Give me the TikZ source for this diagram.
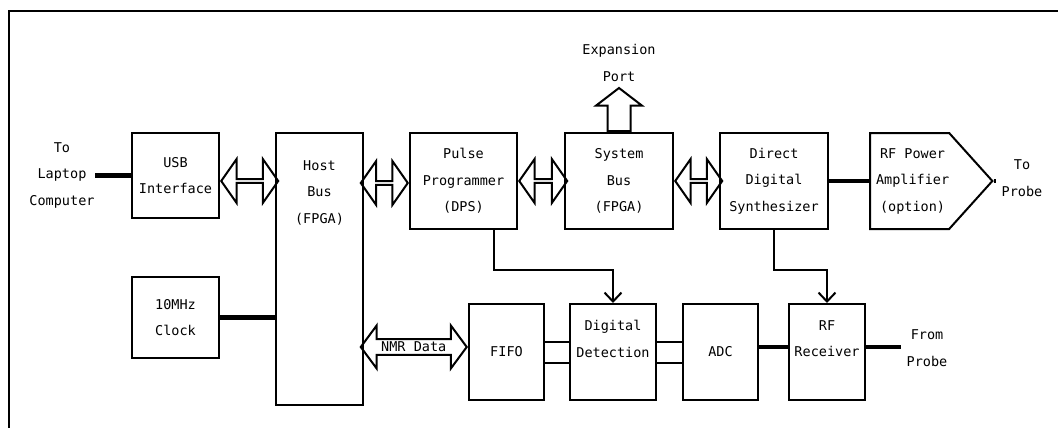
\documentclass[tikz,border=0pt]{standalone}
\usepackage{fontspec}
\setmainfont{DejaVu Sans Mono}
\usetikzlibrary{shapes.arrows,shapes.symbols,arrows.meta}

\tikzset{
  blk/.style={draw, line width=2pt, inner sep=0pt, align=center, anchor=north west},
  txt/.style={inner sep=0pt, align=center},
  bus/.style={line width=4.8pt},
  thin/.style={line width=2pt},
  sig/.style={line width=2pt, -{Straight Barb[length=9pt,width=17pt,line width=2pt]}},
  dbl/.style={draw, line width=2pt, double arrow, double arrow tip angle=110,
    double arrow head extend=11pt, inner sep=0pt, minimum width=44pt},
}

\begin{document}
\begin{tikzpicture}[x=1pt, y=-1pt,
    every node/.style={font=\fontsize{13.5}{26.5}\selectfont}]
    \useasboundingbox (0,0) rectangle (1058,428);

    % Frame
    \draw[thin] (9,428) -- (9,11) -- (1058,11);

    % Blocks
    \node[blk, minimum width=87pt, minimum height=85pt] (usb) at (131,132) {USB\\Interface};
    \node[blk, minimum width=87pt, minimum height=272pt,
      label={[txt, anchor=north, yshift=-28pt]north:{Host\\Bus\\(FPGA)}}] (host) at (275,132) {};
    \node[blk, minimum width=107pt, minimum height=96pt] (pp) at (409,132) {Pulse\\Programmer\\(DPS)};
    \node[blk, minimum width=108pt, minimum height=96pt] (sys) at (564,132) {System\\Bus\\(FPGA)};
    \node[blk, minimum width=108pt, minimum height=96pt] (dds) at (719,132) {Direct\\Digital\\Synthesizer};
    \node[draw, line width=2pt, signal, signal to=east, signal pointer angle=96,
      inner sep=0pt, minimum width=115pt, minimum height=96pt, anchor=west, align=center]
      (amp) at ([xshift=40pt]dds.east) {\hspace*{6pt}RF Power\\\hspace*{6pt}Amplifier\\\hspace*{6pt}(option)};
    \node[blk, minimum width=87pt, minimum height=81pt] (clk) at (131,276) {10MHz\\Clock};
    \node[blk, minimum width=75pt, minimum height=96pt] (fifo) at (468,303) {FIFO};
    \node[blk, minimum width=86pt, minimum height=96pt] (dd) at (569,303) {Digital\\Detection\\~};
    \node[blk, minimum width=75pt, minimum height=96pt] (adc) at (682,303) {ADC};
    \node[blk, minimum width=76pt, minimum height=96pt] (rfrx) at (788,303) {RF\\Receiver\\~};

    % Outside texts
    \node[txt] (lap) at (62,175) {To\\Laptop\\Computer};
    \node[txt] (tp) at (1022,178) {To\\Probe};
    \node[txt] (frp) at (927,348) {From\\Probe};

    % Bus arrows
    \node[dbl, minimum height=57pt, anchor=west] (usbhost) at ([yshift=-5.5pt]usb.east) {};
    \node[dbl, minimum height=47pt, anchor=east] (hostpp) at ([yshift=-2pt]pp.west) {};
    \node[dbl, minimum height=48pt, anchor=west] (ppsys) at (pp.east) {};
    \node[dbl, minimum height=47pt, anchor=west] (sysdds) at (sys.east) {};
    \node[dbl, minimum height=106pt, minimum width=43pt, double arrow head extend=10.5pt,
      double arrow tip angle=107, anchor=east] (nmr) at ([yshift=5pt]fifo.west) {NMR Data};
    \node[draw, line width=2pt, single arrow, shape border rotate=90, single arrow tip angle=105,
      single arrow head extend=11.5pt, inner sep=10.5pt, minimum width=44pt, minimum height=43pt,
      anchor=tail] (expo) at (sys.north) {};
    \node[txt, anchor=south] (exptxt) at ([yshift=5pt]expo.tip) {Expansion\\Port};

    % Lines
    \draw[bus] (usb.west) -- (usb.west -| lap.east);
    \draw[bus] (clk.east) -- (clk.east -| host.west);
    \draw[bus] (dds.east) -- (amp.west);
    \draw[bus, shorten >=5pt] (amp.east) -- (amp.east -| tp.west);
    \draw[bus] ([yshift=5pt]adc.east) -- ([yshift=5pt]rfrx.west);
    \draw[bus, shorten >=5pt] ([yshift=5pt]rfrx.east) -- ([yshift=5pt]rfrx.east -| frp.west);
    \draw[thin] ([yshift=10pt]fifo.east) -- ([yshift=10pt]dd.west);
    \draw[thin] ([yshift=-11pt]fifo.east) -- ([yshift=-11pt]dd.west);
    \draw[thin] ([yshift=10pt]dd.east) -- ([yshift=10pt]adc.west);
    \draw[thin] ([yshift=-11pt]dd.east) -- ([yshift=-11pt]adc.west);

    % Control arrows
    \draw[sig] ([xshift=30pt]pp.south) -- ++(0,40) -| (dd.north);
    \draw[sig] (dds.south) -- ++(0,40) -| (rfrx.north);

\end{tikzpicture}
\end{document}
